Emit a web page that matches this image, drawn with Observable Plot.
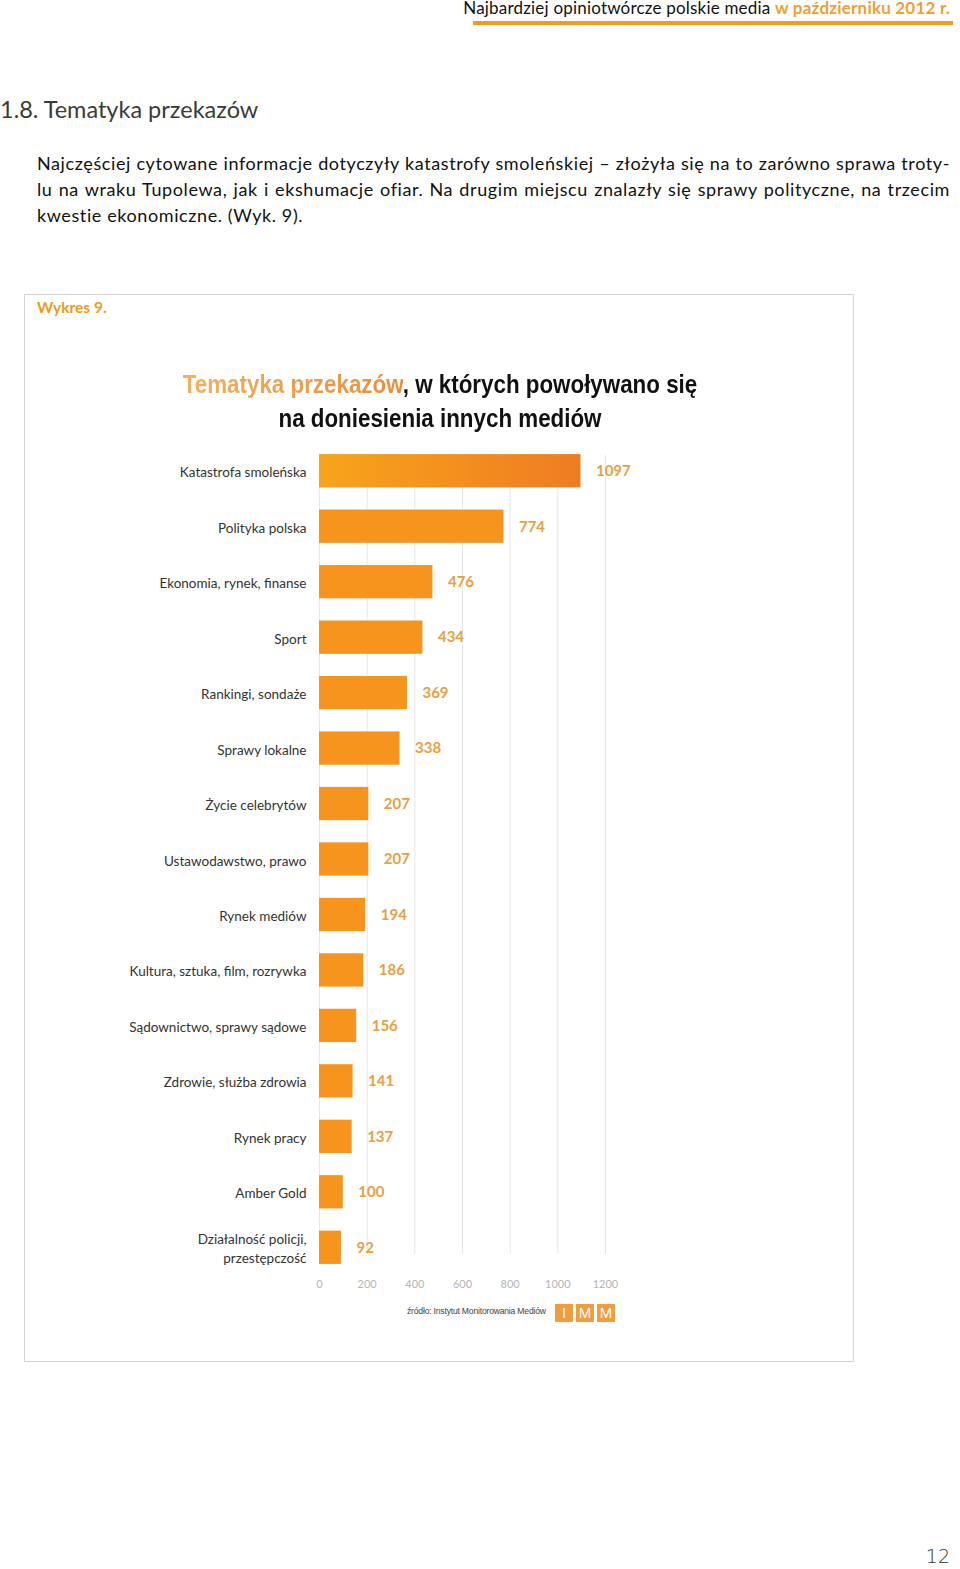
<!DOCTYPE html>
<html lang="pl">
<head>
<meta charset="utf-8">
<script src="https://cdn.jsdelivr.net/npm/d3@7"></script>
<script src="https://cdn.jsdelivr.net/npm/@observablehq/plot@0.6"></script>
<style>
  html, body { margin: 0; padding: 0; background: #fff; }
  body { width: 960px; height: 1569px; position: relative; overflow: hidden; font-family: Lato, "Open Sans", sans-serif; color: #222; }
  .abs { position: absolute; white-space: nowrap; }
  #hdr { right: 10px; top: -3px; font-size: 17px; letter-spacing: 0.2px; color: #111; }
  #hdr b { color: #f0a030; font-weight: 700; }
  #hdrline { left: 473px; top: 21px; width: 480px; height: 4px; background: #f59a1c; }
  #h2 { left: 0px; top: 95px; font-size: 23.5px; color: #3a3a3a; font-weight: 400; }
  #para { left: 37px; top: 150px; width: 913px; font-size: 18px; letter-spacing: 0.6px; line-height: 26px; color: #111; }
  #para div { white-space: nowrap; }
  #para .j { text-align: justify; text-align-last: justify; }
  #frame { left: 24px; top: 294px; width: 828px; height: 1066px; border: 1.5px solid #d4d4d4; }
  #wyk { left: 37px; top: 298px; font-size: 15.5px; font-weight: 700; color: #eb9b1e; }
  .ct { left: 0; width: 880px; text-align: center; font-family: "Liberation Sans", Arial, sans-serif; font-weight: 700; font-size: 26px; color: #111; transform: scaleX(0.86); transform-origin: 440px 0; }
  .ct .o { background: linear-gradient(90deg, #f2b060, #e98e3c); -webkit-background-clip: text; background-clip: text; color: transparent; }
  #chart { position: absolute; left: 0; top: 400px; line-height: 0; }
  #src { left: 407px; top: 1306px; font-family: "Liberation Sans", sans-serif; font-size: 8.6px; color: #444; letter-spacing: -0.2px; }
  .imm { position: absolute; top: 1304px; width: 18px; height: 18px; background: #f39b3f; color: #fff; font-family: "Liberation Sans", sans-serif; font-size: 15px; line-height: 18px; text-align: center; }
  #pg { right: 10px; top: 1545px; font-size: 19px; color: #333; font-family: "DejaVu Sans", sans-serif; font-weight: 300; }
</style>
</head>
<body>
<div class="abs" id="hdr">Najbardziej opiniotwórcze polskie media <b>w październiku 2012 r.</b></div>
<div class="abs" id="hdrline"></div>
<div class="abs" id="h2">1.8. Tematyka przekazów</div>
<div class="abs" id="para">
  <div class="j">Najczęściej cytowane informacje dotyczyły katastrofy smoleńskiej – złożyła się na to zarówno sprawa troty-</div>
  <div class="j">lu na wraku Tupolewa, jak i ekshumacje ofiar. Na drugim miejscu znalazły się sprawy polityczne, na trzecim</div>
  <div>kwestie ekonomiczne. (Wyk. 9).</div>
</div>
<div class="abs" id="frame"></div>
<div class="abs" id="wyk">Wykres 9.</div>
<div class="abs ct" style="top:369px"><span class="o">Tematyka przekazów</span>, w których powoływano się</div>
<div class="abs ct" style="top:403px">na doniesienia innych mediów</div>
<div id="chart"></div>
<div class="abs" id="src">źródło: Instytut Monitorowania Mediów</div>
<div class="imm" style="left:555px">I</div>
<div class="imm" style="left:576px">M</div>
<div class="imm" style="left:597px">M</div>
<div class="abs" id="pg">12</div>

<script>
const categories = [
  "Katastrofa smoleńska",
  "Polityka polska",
  "Ekonomia, rynek, finanse",
  "Sport",
  "Rankingi, sondaże",
  "Sprawy lokalne",
  "Życie celebrytów",
  "Ustawodawstwo, prawo",
  "Rynek mediów",
  "Kultura, sztuka, film, rozrywka",
  "Sądownictwo, sprawy sądowe",
  "Zdrowie, służba zdrowia",
  "Rynek pracy",
  "Amber Gold",
  "Działalność policji,\nprzestępczość"
];
const values = [1097, 774, 476, 434, 369, 338, 207, 207, 194, 186, 156, 141, 137, 100, 92];
const xTicks = [0, 200, 400, 600, 800, 1000, 1200];

const data = categories.map((c, i) => ({category: c, value: values[i], first: i === 0}));

const defs = () => {
  const g = d3.create("svg:defs");
  const lg = g.append("linearGradient").attr("id", "barGrad").attr("x1", 0).attr("x2", 1).attr("y1", 0).attr("y2", 0);
  lg.append("stop").attr("offset", "0%").attr("stop-color", "#f8a41b");
  lg.append("stop").attr("offset", "100%").attr("stop-color", "#ef7c22");
  return g.node();
};

const chart = Plot.plot({
  width: 960,
  height: 900,
  marginLeft: 319,
  marginRight: 355,
  marginTop: 43,
  marginBottom: 25,
  style: {fontFamily: "Lato, sans-serif", background: "transparent", overflow: "visible"},
  x: {domain: [0, 1200], axis: null, label: null},
  y: {domain: categories, paddingInner: 0.4, paddingOuter: 0.2, round: false, axis: null, label: null},
  color: {type: "identity"},
  marks: [
    defs,
    Plot.gridX(xTicks, {stroke: "#e6e6e6", strokeOpacity: 1, strokeWidth: 1, insetTop: 12, insetBottom: 21}),
    Plot.barX(data, {x: "value", y: "category", fill: d => d.first ? "url(#barGrad)" : "#f7941d"}),
    Plot.axisY({tickSize: 0, tickPadding: 13, fontSize: 13.5, fill: "#333", lineHeight: 1.4, label: null}),
    Plot.axisX({ticks: xTicks, tickFormat: d => String(d), tickSize: 0, tickPadding: 5, fontSize: 11, fill: "#b5b5b5", label: null}),
    Plot.text(data, {x: "value", y: "category", text: d => String(d.value), dx: 15, textAnchor: "start", fontWeight: "bold", fontSize: 15, fill: "#e9a043"})
  ]
});
document.getElementById("chart").appendChild(chart);
</script>
</body>
</html>
